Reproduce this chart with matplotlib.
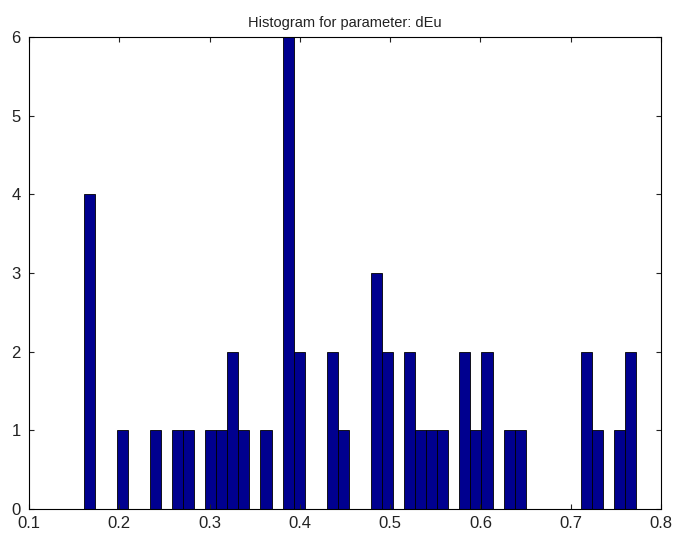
import matplotlib
matplotlib.use("Agg")
import matplotlib.pyplot as plt

# Histogram bins (centers) with non-zero counts
bin_width = 0.01224
bin_centers = [0.1666, 0.2034, 0.2401, 0.2645, 0.2768, 0.3013, 0.3135, 0.3258,
               0.3380, 0.3625, 0.3869, 0.3992, 0.4359, 0.4481, 0.4849, 0.4971,
               0.5216, 0.5338, 0.5461, 0.5583, 0.5828, 0.5950, 0.6073, 0.6317,
               0.6440, 0.7174, 0.7297, 0.7542, 0.7664]
counts = [4, 1, 1, 1, 1, 1, 1, 2,
          1, 1, 6, 2, 2, 1, 3, 2,
          2, 1, 1, 1, 2, 1, 2, 1,
          1, 2, 1, 1, 2]
x_ticks = [0.1, 0.2, 0.3, 0.4, 0.5, 0.6, 0.7, 0.8]
x_tick_labels = ["0.1", "0.2", "0.3", "0.4", "0.5", "0.6", "0.7", "0.8"]
y_ticks = [0, 1, 2, 3, 4, 5, 6]
title = "Histogram for parameter: dEu"

plt.rcParams['font.family'] = ['Liberation Sans', 'DejaVu Sans']

fig = plt.figure(figsize=(6.81, 5.39), dpi=100)
ax = fig.add_axes([29/681, 30/539, (661-29)/681, (509-37)/539])

ax.bar(bin_centers, counts, width=bin_width, color=(0, 0, 0.56),
       edgecolor='black', linewidth=0.6, align='center')

ax.set_xlim(0.1, 0.8)
ax.set_ylim(0, 6)
ax.set_xticks(x_ticks)
ax.set_xticklabels(x_tick_labels)
ax.set_yticks(y_ticks)
ax.tick_params(direction='in', top=True, right=True, length=3.6, width=0.8,
               labelsize=12, colors='#222222')
ax.tick_params(axis='y', pad=6)
ax.tick_params(axis='x', pad=5)
for s in ax.spines.values():
    s.set_linewidth(0.8)
ax.set_title(title, fontsize=10.5, pad=7, color='#222222')

fig.savefig("out.png", dpi=100, facecolor='white')
